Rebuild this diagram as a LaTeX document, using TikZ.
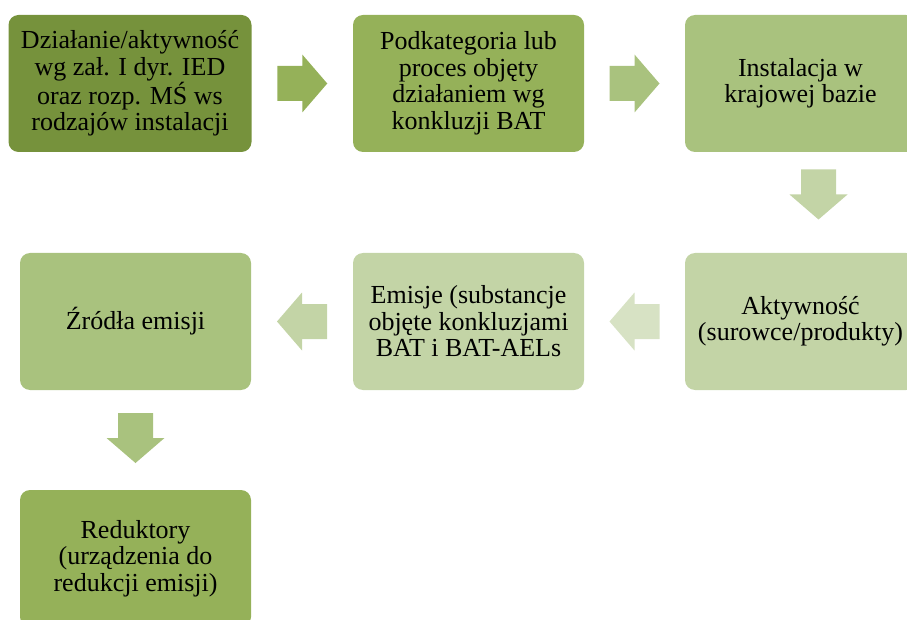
\documentclass[tikz,border=0pt]{standalone}
\usepackage{fontspec}
\setmainfont{Liberation Serif}
\usetikzlibrary{calc}

\definecolor{greendark}{HTML}{76923C}
\definecolor{greenmid}{HTML}{95B159}
\definecolor{greenlight}{HTML}{A9C27E}
\definecolor{greenpale}{HTML}{C3D4A6}
\definecolor{greenfaint}{HTML}{D7E2C4}

\begin{document}
\begin{tikzpicture}[x=1pt,y=-1pt]
  \tikzset{box/.style = {shape=rectangle,rounded corners=10pt,minimum width=231pt,minimum height=137pt,inner sep=2pt,align=center,font=\fontsize{26}{26.5}\selectfont}}
  \tikzset{blockarrow/.pic = {\path[pic actions] (-25,-17.5) -- (0,-17.5) -- (0,-29) -- (25,0) -- (0,29) -- (0,17.5) -- (-25,17.5) -- cycle;}}

  \useasboundingbox (0,0) rectangle (907,620);

	% upper row
	\node[box,fill=greendark,minimum width=243pt] (D) at (130,83.5) {Działanie/aktywność\\wg zał. I dyr. IED\\oraz rozp. MŚ ws\\rodzajów instalacji};
	\node[box,fill=greenmid] (P) at (468.5,83.5) {Podkategoria lub\\proces objęty\\działaniem wg\\konkluzji BAT};
	\node[box,fill=greenlight] (I) at (800.5,83.5) {Instalacja w\\krajowej bazie};
	
	% lower rows
	\node[box,fill=greenpale] (A) at (800.5,321.5) {Aktywność\\(surowce/produkty)};
	\node[box,fill=greenpale] (E) at (468.5,321.5) {Emisje (substancje\\objęte konkluzjami\\BAT i BAT-AELs};
	\node[box,fill=greenlight] (Z) at (135.5,321.5) {Źródła emisji};
	\node[box,fill=greenmid] (R) at (135.5,558.5) {Reduktory\\(urządzenia do\\redukcji emisji)};
	
	\foreach \from/\to/\col in {D/P/greenmid, P/I/greenlight}
    \pic[fill=\col] at ($(\from.east)!0.5!(\to.west)$) {blockarrow};
	\foreach \from/\to/\col in {A/E/greenfaint, E/Z/greenpale}
    \pic[fill=\col,rotate=180] at ($(\from.west)!0.5!(\to.east)$) {blockarrow};
	\pic[fill=greenpale,rotate=-90] at ($(I.south)!0.5!(A.north)+(18,-8)$) {blockarrow};
	\pic[fill=greenlight,rotate=-90] at ($(Z.south)!0.5!(R.north)+(0,-2)$) {blockarrow};
\end{tikzpicture}
\end{document}
